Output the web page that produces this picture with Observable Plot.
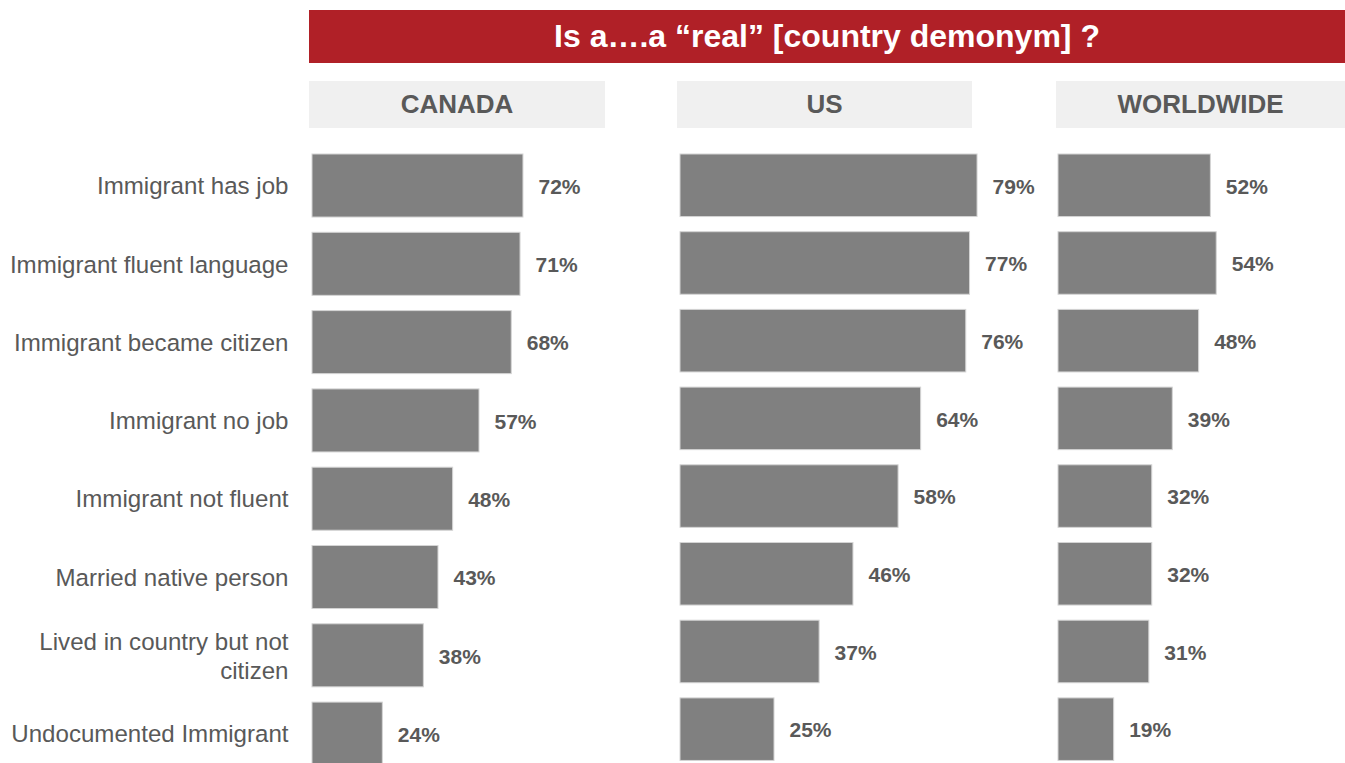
<!DOCTYPE html>
<html>
<head>
<meta charset="utf-8">
<script src="https://cdn.jsdelivr.net/npm/d3@7"></script>
<script src="https://cdn.jsdelivr.net/npm/@observablehq/plot@0.6"></script>
<style>
  html, body { margin: 0; padding: 0; background: #fff; overflow: hidden; }
  #wrap { position: relative; width: 1345px; height: 763px; overflow: hidden; font-family: "Liberation Sans", Arial, sans-serif; }
  .title { position: absolute; left: 309px; top: 10px; width: 1036px; height: 53px; background: #B02027; color: #fff;
           font-weight: bold; font-size: 32px; display: flex; align-items: center; justify-content: center; }
  .head { position: absolute; top: 81px; height: 47px; background: #F0F0F0; color: #595959; font-weight: bold; font-size: 26px;
          display: flex; align-items: center; justify-content: center; }
  .plot { position: absolute; left: 0; top: 140px; }
</style>
</head>
<body>
<div id="wrap"></div>
<script>
const titleText = "Is a\u2026.a \u201creal\u201d [country demonym] ?";
const panels = ["CANADA", "US", "WORLDWIDE"];
const categories = [
  "Immigrant has job",
  "Immigrant fluent language",
  "Immigrant became citizen",
  "Immigrant no job",
  "Immigrant not fluent",
  "Married native person",
  "Lived in country but not\ncitizen",
  "Undocumented Immigrant"
];
const canada = [72, 71, 68, 57, 48, 43, 38, 24];
const us = [79, 77, 76, 64, 58, 46, 37, 25];
const worldwide = [52, 54, 48, 39, 32, 32, 31, 19];

const wrap = document.getElementById("wrap");
const t = document.createElement("div");
t.className = "title"; t.textContent = titleText; wrap.appendChild(t);

const layout = [
  {name: panels[0], values: canada, head: [309, 296], x0: 312, pxPer: 2.93, step: 78.3, axis: true},
  {name: panels[1], values: us, head: [677, 295], x0: 680, pxPer: 3.76, step: 77.7, axis: false},
  {name: panels[2], values: worldwide, head: [1056, 289], x0: 1058, pxPer: 2.93, step: 77.7, axis: false}
];

for (const p of layout) {
  const h = document.createElement("div");
  h.className = "head";
  h.style.left = p.head[0] + "px"; h.style.width = p.head[1] + "px";
  h.textContent = p.name;
  wrap.appendChild(h);

  const data = categories.map((c, i) => ({category: c, value: p.values[i]}));
  const marks = [
    Plot.barX(data, {x: "value", y: "category", fill: "#808080", stroke: "#D4D4D4", strokeWidth: 1}),
    Plot.text(data, {x: "value", y: "category", text: d => d.value + "%", textAnchor: "start", dx: 15, dy: 1,
      fontWeight: "bold", fontSize: 21, fill: "#595959"})
  ];
  if (p.axis) {
    marks.push(Plot.text(data, {x: d => 0, y: "category", text: "category", textAnchor: "end", dx: -24, dy: -1,
      fontSize: 24.1, fill: "#595959", lineHeight: 1.2}));
  }
  const svg = Plot.plot({
    width: 1345,
    height: 640,
    style: {fontFamily: "'Liberation Sans', Arial, sans-serif", background: "transparent", overflow: "visible"},
    x: {domain: [0, 100], range: [p.x0, p.x0 + p.pxPer * 100], axis: null},
    y: {domain: categories, range: [14, 14 + p.step * 7.805], paddingInner: 0.195, paddingOuter: 0, align: 0, round: false, axis: null},
    marks
  });
  svg.classList.add("plot");
  wrap.appendChild(svg);
}
</script>
</body>
</html>
